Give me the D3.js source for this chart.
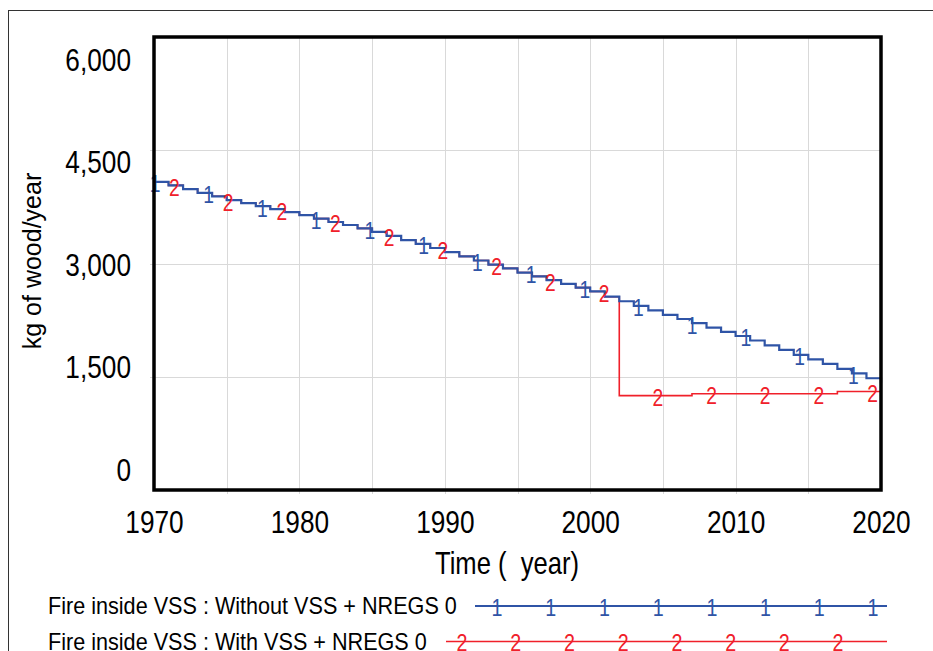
<!DOCTYPE html>
<html>
<head>
<meta charset="utf-8">
<script src="https://cdn.jsdelivr.net/npm/d3@7"></script>
<style>
  html, body { margin: 0; padding: 0; background: #fff; }
  svg { display: block; }
</style>
</head>
<body>
<svg id="chart" width="933" height="651"></svg>
<script>
// Simulation output, one value per year (kg of wood/year)
const years = d3.range(1970, 2021);

const withoutVss = [
  4080, 4035, 3985, 3935, 3890, 3840, 3800, 3760, 3720, 3680,
  3640, 3595, 3550, 3510, 3465, 3420, 3365, 3310, 3260, 3205,
  3150, 3095, 3040, 2985, 2935, 2880, 2830, 2780, 2730, 2680,
  2630, 2560, 2500, 2440, 2380, 2320, 2265, 2210, 2150, 2095,
  2040, 1980, 1915, 1855, 1790, 1730, 1670, 1605, 1545, 1480,
  1420
];

const withVss = [
  4080, 4035, 3985, 3935, 3890, 3840, 3800, 3760, 3720, 3680,
  3640, 3595, 3550, 3510, 3465, 3420, 3365, 3310, 3260, 3205,
  3150, 3095, 3040, 2985, 2935, 2880, 2830, 2780, 2730, 2680,
  2630, 2560, 1250, 1250, 1250, 1250, 1250, 1275, 1275, 1275,
  1275, 1275, 1275, 1275, 1275, 1275, 1275, 1305, 1305, 1305,
  1305
];

const seriesNames = [
  "Fire inside VSS : Without VSS + NREGS 0",
  "Fire inside VSS : With VSS + NREGS 0"
];
const seriesMarks = ["1", "2"];
const seriesColors = ["#2f54a6", "#f0202a"];

const xTickLabels = [1970, 1980, 1990, 2000, 2010, 2020];
const xGridYears = [1975, 1980, 1985, 1990, 1995, 2000, 2005, 2010, 2015];
const yTickLabels = [0, 1500, 3000, 4500, 6000];
const yGridValues = [1500, 3000, 4500];

const FONT = "'Liberation Sans', Arial, sans-serif";

// narrow look: scale text horizontally about its own anchor point
function condense(sel, k = 0.82) {
  sel.each(function () {
    const t = d3.select(this);
    const xx = +t.attr("x") || 0;
    t.attr("transform", `translate(${xx},0) scale(${k},1) translate(${-xx},0)`);
  });
  return sel;
}

const svg = d3.select("#chart");

// outer frame
svg.append("rect")
  .attr("x", 8.5).attr("y", 10.5)
  .attr("width", 1000).attr("height", 1000)
  .attr("fill", "none").attr("stroke", "#333").attr("stroke-width", 1);

const plot = { left: 154, right: 881, top: 37, bottom: 490 };

const x = d3.scaleLinear().domain([1970, 2020]).range([plot.left, plot.right]);
const y = d3.scaleLinear().domain([0, 6000]).range([plot.bottom, plot.top]);
// tick labels sit a little inside the plot's vertical extent
const yLabel = d3.scaleLinear().domain([0, 6000]).range([470, 60]);

// grid
const grid = svg.append("g").attr("stroke", "#d9d9d9").attr("stroke-width", 1);
grid.selectAll("line.v").data(xGridYears).join("line")
  .attr("class", "v")
  .attr("x1", d => Math.round(x(d)) + 0.5).attr("x2", d => Math.round(x(d)) + 0.5)
  .attr("y1", plot.top).attr("y2", plot.bottom + 4);
grid.selectAll("line.h").data(yGridValues).join("line")
  .attr("class", "h")
  .attr("x1", plot.left - 4).attr("x2", plot.right)
  .attr("y1", d => Math.round(y(d)) + 0.5).attr("y2", d => Math.round(y(d)) + 0.5);

// series lines (step after each yearly value)
const seriesData = [withoutVss, withVss];
const line = d3.line()
  .x((d, i) => x(years[i]))
  .y(d => y(d))
  .curve(d3.curveStepAfter);

[1, 0].forEach(k => {
  svg.append("path")
    .datum(seriesData[k])
    .attr("d", line)
    .attr("fill", "none")
    .attr("stroke", seriesColors[k])
    .attr("stroke-width", k === 0 ? 2.2 : 1.6);
});

// series number markers spaced evenly along each line
const markStep = 53.72;
const markStart = [155, 174.3];
const valueAt = (vals, yr) => {
  const i = Math.max(0, Math.min(vals.length - 1, Math.floor(yr - 1970 + 1e-6)));
  return vals[i];
};
[0, 1].forEach(k => {
  const pts = d3.range(14).map(i => markStart[k] + markStep * i)
    .filter(px => px <= plot.right + 0.5);
  svg.append("g").selectAll("text").data(pts).join("text")
    .attr("x", d => d)
    .attr("y", d => y(valueAt(seriesData[k], x.invert(Math.min(d, plot.right - 0.01)))) + 10.5)
    .attr("text-anchor", "middle")
    .attr("font-family", FONT)
    .attr("font-size", 23.5)
    .attr("fill", seriesColors[k])
    .text(seriesMarks[k])
    .call(condense);
});

// plot frame
svg.append("rect")
  .attr("x", plot.left).attr("y", plot.top)
  .attr("width", plot.right - plot.left).attr("height", plot.bottom - plot.top)
  .attr("fill", "none").attr("stroke", "#000").attr("stroke-width", 3.5);

// axes
const xAxis = svg.append("g")
  .attr("transform", `translate(0,${plot.bottom})`)
  .call(d3.axisBottom(x).tickValues(xTickLabels).tickSize(0).tickPadding(20).tickFormat(d3.format("d")));
xAxis.select(".domain").remove();
xAxis.selectAll("text").attr("font-family", FONT).attr("font-size", 32).attr("fill", "#000").call(condense);

const yAxis = svg.append("g")
  .attr("transform", "translate(131,0)")
  .call(d3.axisLeft(yLabel).tickValues(yTickLabels).tickSize(0).tickPadding(0).tickFormat(d3.format(",")));
yAxis.select(".domain").remove();
yAxis.selectAll("text").attr("font-family", FONT).attr("font-size", 32).attr("fill", "#000").call(condense);

// axis titles
svg.append("text")
  .attr("x", 507).attr("y", 574)
  .attr("text-anchor", "middle")
  .attr("font-family", FONT).attr("font-size", 32)
  .style("white-space", "pre")
  .text("Time (  year)")
  .call(condense, 0.8);

svg.append("text")
  .attr("transform", "translate(41,261) rotate(-90)")
  .attr("text-anchor", "middle")
  .attr("font-family", FONT).attr("font-size", 25)
  .text("kg of wood/year");

// legend
const legendRows = [
  { y: 606, lineX0: 475, firstMark: 497 },
  { y: 641.5, lineX0: 446, firstMark: 462 }
];
const legendX1 = 887;
legendRows.forEach((row, k) => {
  const g = svg.append("g");
  g.append("text")
    .attr("x", 48).attr("y", row.y + 8.5)
    .attr("font-family", FONT).attr("font-size", 23.5)
    .attr("fill", "#000")
    .text(seriesNames[k])
    .call(condense, 0.92);
  g.append("line")
    .attr("x1", row.lineX0).attr("x2", legendX1)
    .attr("y1", row.y).attr("y2", row.y)
    .attr("stroke", seriesColors[k]).attr("stroke-width", k === 0 ? 2.2 : 1.6);
  const marks = d3.range(8).map(i => row.firstMark + markStep * i);
  g.selectAll("text.m").data(marks).join("text")
    .attr("class", "m")
    .attr("x", d => d).attr("y", row.y + 10)
    .attr("text-anchor", "middle")
    .attr("font-family", FONT).attr("font-size", 24)
    .attr("fill", seriesColors[k])
    .text(seriesMarks[k])
    .call(condense);
});
</script>
</body>
</html>
